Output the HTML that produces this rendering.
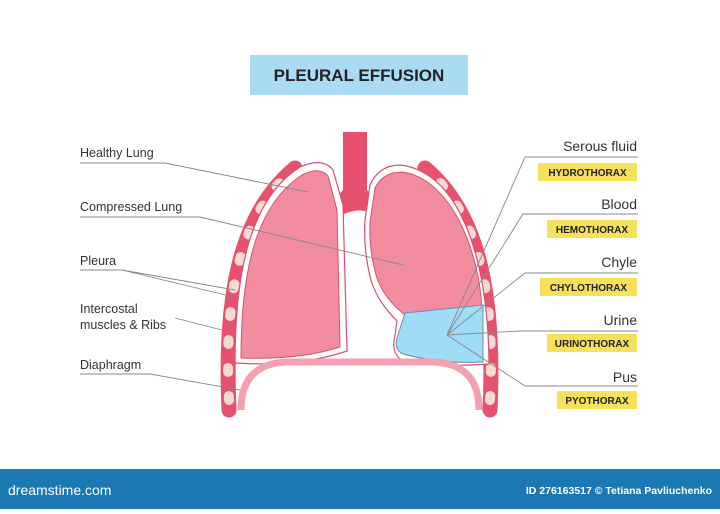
<!DOCTYPE html>
<html><head><meta charset="utf-8"><style>
body{margin:0;width:720px;height:509px;overflow:hidden;background:#fff;font-family:"Liberation Sans",sans-serif}
</style></head><body>
<svg width="720" height="509" viewBox="0 0 720 509" xmlns="http://www.w3.org/2000/svg" font-family="Liberation Sans, sans-serif">
<rect x="250" y="55" width="218" height="40" fill="#a9dcf4"/>
<text x="359" y="81" text-anchor="middle" font-size="17" font-weight="bold" fill="#222">PLEURAL EFFUSION</text>
<!-- ribs -->
<g fill="none">
<path d="M229 410 C224 300 238 215 295 168" stroke="#e8516e" stroke-width="15" stroke-linecap="round"/>
<path d="M229 400 C224 300 238 215 295 168" stroke="#f7d8d4" stroke-width="10" stroke-linecap="round" stroke-dasharray="4 24"/>
<path d="M490 410 C495 300 481 215 425 168" stroke="#e8516e" stroke-width="15" stroke-linecap="round"/>
<path d="M490 400 C495 300 481 215 425 168" stroke="#f7d8d4" stroke-width="10" stroke-linecap="round" stroke-dasharray="4 24"/>
</g>
<!-- trachea -->
<path d="M343 132 H367 V190 L380 205 L378 215 Q360 206 342 215 L330 205 L343 190 Z" fill="#e8516e"/>
<!-- left lung -->
<path d="M235 363 C235 270 251 198 300 167 Q323 157 333 170 L343 205 L347 351 Q300 367 235 363 Z" fill="#fff" stroke="#d9516e" stroke-width="1.2"/>
<path d="M241 358 C241 270 256 205 302 175 Q320 166 328 176 L337 210 L340 347 Q300 360 241 358 Z" fill="#f28da0" stroke="#d9516e" stroke-width="1"/>
<!-- right lung -->
<path d="M370 185 Q379 165 400 165 C456 171 488 250 489 364 Q440 368 400 359 Q391 351 395 335 L397 321 Q377 301 371 280 Q363 250 365 220 Z" fill="#fff" stroke="#d9516e" stroke-width="1.2"/>
<path d="M375 188 Q383 172 402 172 C450 178 480 250 482 312 L405 315 Q383 298 376 275 Q369 250 370 222 Z" fill="#f28da0" stroke="#d9516e" stroke-width="1"/>
<path d="M405 313 L483 305 L483 362 Q440 364 403 354 Q394 350 397 338 Z" fill="#9fdcf6" stroke="#6f8cb0" stroke-width="1"/>
<!-- diaphragm -->
<path d="M241 410 Q241 362 290 362 L430 362 Q479 362 479 410" fill="none" stroke="#f4a0b0" stroke-width="7"/>
<!-- leader lines -->
<g stroke="#888" stroke-width="0.9" fill="none">
<path d="M80 163 H165 L308 192"/>
<path d="M80 217 H200 L403 265"/>
<path d="M80 270 H122 L235 290 M122 270 L238 298"/>
<path d="M175 318 L222 330"/>
<path d="M80 374 H150 L240 390"/>
<path d="M638 157 H525 L447 335"/>
<path d="M638 214 H523 L447 335"/>
<path d="M638 273 H525 L447 335"/>
<path d="M638 331 H520 L447 335"/>
<path d="M638 386 H525 L447 335"/>
</g>
<g font-size="12.5" fill="#333">
<text x="80" y="157">Healthy Lung</text>
<text x="80" y="211">Compressed Lung</text>
<text x="80" y="265">Pleura</text>
<text x="80" y="313">Intercostal</text>
<text x="80" y="329">muscles &amp; Ribs</text>
<text x="80" y="369">Diaphragm</text>
</g>
<g font-size="14" fill="#333" text-anchor="end">
<text x="637" y="151">Serous fluid</text>
<text x="637" y="209">Blood</text>
<text x="637" y="267">Chyle</text>
<text x="637" y="325">Urine</text>
<text x="637" y="382">Pus</text>
</g>
<g fill="#f7e15a">
<rect x="538" y="163" width="99" height="18"/>
<rect x="547" y="220" width="90" height="18"/>
<rect x="540" y="278" width="97" height="18"/>
<rect x="547" y="334" width="90" height="18"/>
<rect x="557" y="391" width="80" height="18"/>
</g>
<g font-size="10" font-weight="bold" fill="#222" text-anchor="middle">
<text x="587.5" y="176">HYDROTHORAX</text>
<text x="592" y="233">HEMOTHORAX</text>
<text x="588.5" y="291">CHYLOTHORAX</text>
<text x="592" y="347">URINOTHORAX</text>
<text x="597" y="404">PYOTHORAX</text>
</g>
<rect x="0" y="469" width="720" height="40" fill="#1b78b3"/>
<text x="8" y="495" font-size="14" fill="#fff">dreamstime.com</text>
<text x="712" y="494" font-size="10.5" font-weight="bold" fill="#fff" text-anchor="end">ID 276163517 © Tetiana Pavliuchenko</text>
</svg>
</body></html>
